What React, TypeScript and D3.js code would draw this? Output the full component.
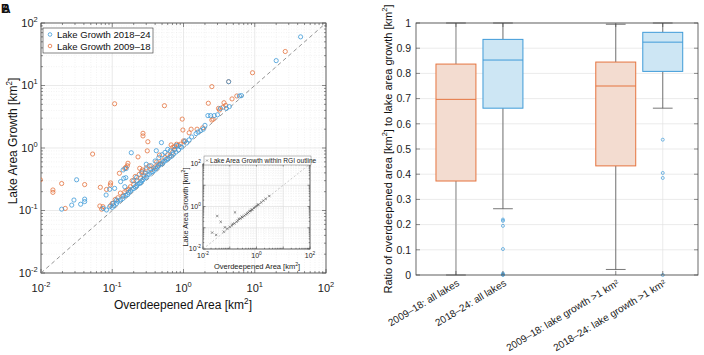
import React from "react";
import * as d3 from "d3";

// Panel A: lake area growth vs overdeepened area (km2)
const blue2018: [number, number][] = [
  [44, 60], [20, 25], [4.3, 11.5],
  [6.1, 6.8], [6.5, 6.9], [4.0, 4.3], [4.4, 4.6], [3.3, 4.3], [2.7, 3.3], [3.0, 3.4], [2.2, 3.3], [2.4, 3.3],
  [1.5, 1.7], [1.6, 1.8], [1.75, 1.9], [1.9, 2.0], [2.0, 2.3],
  [0.49, 1.22], [0.415, 0.905], [0.185, 0.84], [0.94, 1.03], [0.85, 0.93], [0.78, 0.86], [0.72, 0.8],
  [0.68, 0.74], [0.64, 0.71], [0.6, 0.67], [0.57, 0.66], [0.55, 0.62], [0.52, 0.6], [0.5, 0.56], [0.47, 0.55],
  [0.45, 0.52], [0.43, 0.5], [0.41, 0.47], [0.39, 0.44], [0.37, 0.42], [0.35, 0.41], [0.33, 0.38], [0.31, 0.37],
  [0.3, 0.34], [0.28, 0.33], [0.27, 0.31], [0.26, 0.3], [0.25, 0.28], [0.24, 0.27], [0.23, 0.265], [0.22, 0.25],
  [0.21, 0.24], [0.2, 0.225], [0.19, 0.22], [0.18, 0.205], [0.17, 0.195], [0.165, 0.18], [0.155, 0.175],
  [0.145, 0.17], [0.14, 0.155], [0.13, 0.148], [0.12, 0.14], [0.115, 0.13], [0.105, 0.12], [0.1, 0.112],
  [0.4, 0.62], [0.45, 0.7], [0.5, 0.78], [0.55, 0.85], [0.6, 0.95], [0.35, 0.52], [0.3, 0.45], [0.26, 0.4],
  [0.22, 0.34], [0.2, 0.3], [0.3, 0.55], [0.65, 0.9], [0.75, 0.95], [0.8, 1.1], [0.9, 1.05], [1.1, 1.2],
  [1.2, 1.35], [1.3, 1.5], [1.05, 1.3],
  [0.0316, 0.31], [0.0195, 0.105], [0.027, 0.122], [0.029, 0.147], [0.036, 0.126], [0.041, 0.152], [0.041, 0.139],
  [0.0745, 0.108], [0.083, 0.102], [0.092, 0.115], [0.103, 0.13], [0.115, 0.147], [0.092, 0.218], [0.108, 0.226],
  [0.15, 0.24], [0.155, 0.335], [0.142, 0.445], [0.082, 0.177], [0.157, 0.47], [0.131, 0.29], [0.145, 0.327],
];

const orange2009: [number, number][] = [
  [26.8, 35], [9.3, 16], [4.3, 11.5], [2.5, 9.6], [2.23, 5.2], [3.1, 4.3], [3.2, 4.05], [3.6, 4.5], [3.7, 5.3],
  [3.9, 4.8], [4.8, 6.1], [5.6, 6.8], [2.5, 2.8], [2.6, 2.9], [1.86, 2.1], [0.96, 2.9], [0.98, 1.94], [1.28, 2.0],
  [1.55, 2.0], [0.54, 4.75], [0.108, 5.1], [1.2, 1.75],
  [1.0, 1.3], [0.9, 1.15], [0.85, 1.1], [0.8, 1.15], [0.75, 1.05], [0.7, 0.85], [0.65, 0.75], [0.6, 0.78],
  [0.55, 0.7], [0.5, 0.62], [0.48, 0.56], [0.45, 0.55], [0.42, 0.6], [0.4, 0.5], [0.38, 0.48], [0.35, 0.45],
  [0.33, 0.52], [0.3, 0.48], [0.29, 0.4], [0.28, 0.36], [0.26, 0.42], [0.25, 0.33], [0.24, 0.38], [0.22, 0.3],
  [0.21, 0.35], [0.2, 0.26], [0.19, 0.3], [0.18, 0.24], [0.17, 0.22], [0.16, 0.21], [0.15, 0.2], [0.14, 0.17],
  [0.13, 0.19], [0.12, 0.16], [0.11, 0.15], [0.1, 0.13], [0.095, 0.12],
  [0.0098, 0.31], [0.0195, 0.27], [0.0147, 0.213], [0.0147, 0.195], [0.041, 0.26], [0.0219, 0.108], [0.053, 0.8],
  [0.068, 0.235], [0.083, 0.217], [0.095, 0.276], [0.071, 0.105], [0.067, 0.118], [0.074, 0.115],
  [0.27, 1.72], [0.27, 1.56], [0.316, 1.26], [0.31, 0.9], [0.23, 0.72], [0.166, 0.57], [0.163, 0.52], [0.15, 0.47],
  [0.126, 0.394], [0.46, 0.77], [0.67, 1.12], [0.71, 1.03], [0.75, 0.95], [1.03, 1.26], [0.243, 0.473],
  [0.264, 0.445], [0.155, 0.49], [0.094, 0.256],
];

// inset: lake area growth within RGI outline
const rgiPoints: [number, number][] = [
  [0.034, 0.357], [0.046, 0.19], [0.157, 0.53], [0.022, 0.059], [0.031, 0.046], [0.066, 0.105], [0.06, 0.065],
  [0.08, 0.09], [0.1, 0.11], [0.12, 0.13], [0.13, 0.15], [0.15, 0.16], [0.18, 0.19], [0.2, 0.22], [0.22, 0.26],
  [0.25, 0.27], [0.28, 0.33], [0.3, 0.31], [0.35, 0.37], [0.4, 0.42], [0.45, 0.47], [0.5, 0.52], [0.55, 0.6],
  [0.6, 0.62], [0.65, 0.7], [0.7, 0.72], [0.8, 0.85], [0.9, 0.95], [1.0, 1.05], [1.1, 1.2], [1.2, 1.25],
  [1.5, 1.55], [1.8, 1.9], [2.2, 2.3], [3.0, 3.1],
];

const logExps = [-2, -1, 0, 1, 2];
const insetExps = [-2, 0, 2];

// Panel B: box plots of the area ratio
const boxLabels = ["2009–18: all lakes", "2018–24: all lakes", "2009–18: lake growth >1 km²", "2018–24: lake growth >1 km²"];
const boxPositions = [1, 2, 4.4, 5.4];
const boxQ1 = [0.373, 0.662, 0.433, 0.808];
const boxMedian = [0.697, 0.853, 0.75, 0.924];
const boxQ3 = [0.837, 0.935, 0.845, 0.963];
const whiskerLow = [0, 0.263, 0.022, 0.662];
const whiskerHigh = [1, 1, 0.995, 1];
const boxOutliers = [[], [0.22, 0.215, 0.195, 0.103, 0.006, 0.002, 0], [], [0.537, 0.405, 0.385, 0]];
const ratioTicks = [0, 0.1, 0.2, 0.3, 0.4, 0.5, 0.6, 0.7, 0.8, 0.9, 1];

const BLUE = "#3f9bd8";
const ORANGE = "#e5743f";
const FONT = "'Liberation Sans', Arial, Helvetica, sans-serif";

const minorValues = (lo: number, hi: number) => {
  const out: number[] = [];
  for (let k = lo; k < hi; k++) for (let m = 2; m <= 9; m++) out.push(m * Math.pow(10, k));
  return out;
};

const LogAxes = ({ xs, ys, exps, fs, tick, labelDy }: any) => {
  const [x0, x1] = xs.range();
  const [y0, y1] = ys.range(); // y0 bottom
  const majors = d3.range(-2, 3).map((e) => Math.pow(10, e));
  const minors = minorValues(-2, 2);
  return (
    <g>
      <rect x={x0} y={y1} width={x1 - x0} height={y0 - y1} fill="#fff" />
      {minors.map((v, i) => (
        <g key={"mn" + i} stroke="#e6e6e6" strokeWidth={0.5} strokeDasharray="1,1.5">
          <line x1={xs(v)} x2={xs(v)} y1={y0} y2={y1} />
          <line x1={x0} x2={x1} y1={ys(v)} y2={ys(v)} />
        </g>
      ))}
      {majors.map((v, i) => (
        <g key={"mj" + i} stroke="#dcdcdc" strokeWidth={0.6}>
          <line x1={xs(v)} x2={xs(v)} y1={y0} y2={y1} />
          <line x1={x0} x2={x1} y1={ys(v)} y2={ys(v)} />
        </g>
      ))}
      <g stroke="#444" strokeWidth={0.6}>
        {majors.map((v, i) => (
          <g key={"tk" + i}>
            <line x1={xs(v)} x2={xs(v)} y1={y0} y2={y0 - tick} />
            <line x1={xs(v)} x2={xs(v)} y1={y1} y2={y1 + tick} />
            <line x1={x0} x2={x0 + tick} y1={ys(v)} y2={ys(v)} />
            <line x1={x1} x2={x1 - tick} y1={ys(v)} y2={ys(v)} />
          </g>
        ))}
        {minors.map((v, i) => (
          <g key={"tm" + i}>
            <line x1={xs(v)} x2={xs(v)} y1={y0} y2={y0 - tick / 2} />
            <line x1={xs(v)} x2={xs(v)} y1={y1} y2={y1 + tick / 2} />
            <line x1={x0} x2={x0 + tick / 2} y1={ys(v)} y2={ys(v)} />
            <line x1={x1} x2={x1 - tick / 2} y1={ys(v)} y2={ys(v)} />
          </g>
        ))}
      </g>
      <rect x={x0} y={y1} width={x1 - x0} height={y0 - y1} fill="none" stroke="#444" strokeWidth={0.8} />
      {exps.map((e: number) => (
        <text key={"xl" + e} x={xs(Math.pow(10, e))} y={y0 + labelDy} fontSize={fs} textAnchor="middle" fill="#222">
          10<tspan fontSize={fs * 0.68} dy={-fs * 0.45}>{e}</tspan>
        </text>
      ))}
      {exps.map((e: number) => (
        <text key={"yl" + e} x={x0 - fs * 0.3} y={ys(Math.pow(10, e)) + fs * 0.35} fontSize={fs} textAnchor="end" fill="#222">
          10<tspan fontSize={fs * 0.68} dy={-fs * 0.45}>{e}</tspan>
        </text>
      ))}
    </g>
  );
};

const Km2 = ({ fs }: { fs: number }) => (
  <>
    km<tspan fontSize={fs * 0.68} dy={-fs * 0.42}>2</tspan>
    <tspan dy={fs * 0.42}>]</tspan>
  </>
);

const App = () => {
  // main scatter
  const xs = d3.scaleLog().domain([0.01, 100]).range([41, 326]);
  const ys = d3.scaleLog().domain([0.01, 100]).range([273, 23]);
  // inset
  const xi = d3.scaleLog().domain([0.01, 100]).range([203, 310]);
  const yi = d3.scaleLog().domain([0.01, 100]).range([249, 164]);
  // box plot
  const xr = d3.scaleLinear().domain([0.15, 6.15]).range([416, 698]);
  const yr = d3.scaleLinear().domain([0, 1]).range([275, 23]);
  const half = 0.425;
  const cap = 0.21;

  return (
    <svg width={704} height={355} style={{ position: "absolute", left: 0, top: 0 }} fontFamily={FONT}>
      <rect width={704} height={355} fill="#fff" />
      <text x={1} y={13} fontSize={12} fontWeight="bold" fill="#111">B</text>
      <text x={2} y={13} fontSize={12} fontWeight="bold" fill="#111">A</text>

      {/* Panel A */}
      <LogAxes xs={xs} ys={ys} exps={logExps} fs={11} tick={4} labelDy={19} />
      <defs>
        <clipPath id="mainClip">
          <rect x={41} y={23} width={285} height={250} />
        </clipPath>
        <clipPath id="insetClip">
          <rect x={203} y={164} width={107} height={85} />
        </clipPath>
      </defs>
      <g clipPath="url(#mainClip)">
        <line x1={xs(0.01)} y1={ys(0.01)} x2={xs(100)} y2={ys(100)} stroke="#7a7a7a" strokeWidth={0.8} strokeDasharray="4,3" />
        {orange2009.map((d, i) => (
          <circle key={"o" + i} cx={xs(d[0])} cy={ys(d[1])} r={2.1} fill="none" stroke={ORANGE} strokeWidth={0.8} />
        ))}
        {blue2018.map((d, i) => (
          <circle key={"b" + i} cx={xs(d[0])} cy={ys(d[1])} r={2.1} fill="none" stroke={BLUE} strokeWidth={0.8} />
        ))}
      </g>
      <g>
        <rect x={43} y={28} width={110} height={25} fill="#fff" stroke="#333" strokeWidth={0.6} />
        <circle cx={50} cy={34.5} r={1.8} fill="none" stroke={BLUE} strokeWidth={0.8} />
        <text x={57} y={38} fontSize={9.5} fill="#111">Lake Growth 2018–24</text>
        <circle cx={50} cy={46} r={1.8} fill="none" stroke={ORANGE} strokeWidth={0.8} />
        <text x={57} y={49.5} fontSize={9.5} fill="#111">Lake Growth 2009–18</text>
      </g>
      <text transform="translate(17,141) rotate(-90)" fontSize={12} textAnchor="middle" fill="#111">
        Lake Area Growth [<Km2 fs={12} />
      </text>
      <text x={183} y={309} fontSize={12} textAnchor="middle" fill="#111">
        Overdeepened Area [<Km2 fs={12} />
      </text>

      {/* Inset */}
      <LogAxes xs={xi} ys={yi} exps={insetExps} fs={7} tick={2.5} labelDy={9} />
      <g clipPath="url(#insetClip)">
        <line x1={xi(0.01)} y1={yi(0.01)} x2={xi(100)} y2={yi(100)} stroke="#999" strokeWidth={0.5} strokeDasharray="2,2" />
        {rgiPoints.map((d, i) => {
          const cx = xi(d[0]);
          const cy = yi(d[1]);
          return (
            <path key={"r" + i} d={`M${cx - 1.2},${cy - 1.2}L${cx + 1.2},${cy + 1.2}M${cx - 1.2},${cy + 1.2}L${cx + 1.2},${cy - 1.2}`} stroke="#555" strokeWidth={0.6} />
          );
        })}
      </g>
      <rect x={204} y={156} width={107} height={9} fill="#fff" stroke="#777" strokeWidth={0.5} />
      <path d="M206,159.5L208,161.5M206,161.5L208,159.5" stroke="#555" strokeWidth={0.5} />
      <text x={210} y={163} fontSize={6.6} fill="#222">Lake Area Growth within RGI outline</text>
      <text transform="translate(188,207) rotate(-90)" fontSize={7.5} textAnchor="middle" fill="#222">
        Lake Area Growth [<Km2 fs={7.5} />
      </text>
      <text x={257} y={269} fontSize={7.5} textAnchor="middle" fill="#222">
        Overdeepened Area [<Km2 fs={7.5} />
      </text>

      {/* Panel B */}
      <g>
        {ratioTicks.map((t) => (
          <line key={"hg" + t} x1={416} x2={698} y1={yr(t)} y2={yr(t)} stroke="#e3e3e3" strokeWidth={0.7} />
        ))}
        {boxPositions.map((p) => (
          <line key={"vg" + p} x1={xr(p)} x2={xr(p)} y1={yr(0)} y2={yr(1)} stroke="#e3e3e3" strokeWidth={0.7} />
        ))}
        {boxPositions.map((p, i) => {
          const color = i % 2 === 0 ? ORANGE : BLUE;
          const fill = i % 2 === 0 ? "#f3dcd0" : "#cde6f4";
          const wColor = i === 0 ? "#b0b0b0" : "#555";
          const wWidth = i === 0 ? 1.6 : 0.8;
          return (
            <g key={"box" + i}>
              <line x1={xr(p)} x2={xr(p)} y1={yr(boxQ3[i])} y2={yr(whiskerHigh[i])} stroke={wColor} strokeWidth={wWidth} />
              <line x1={xr(p)} x2={xr(p)} y1={yr(boxQ1[i])} y2={yr(whiskerLow[i])} stroke={wColor} strokeWidth={wWidth} />
              <line x1={xr(p - cap)} x2={xr(p + cap)} y1={yr(whiskerHigh[i])} y2={yr(whiskerHigh[i])} stroke="#555" strokeWidth={0.8} />
              <line x1={xr(p - cap)} x2={xr(p + cap)} y1={yr(whiskerLow[i])} y2={yr(whiskerLow[i])} stroke="#555" strokeWidth={0.8} />
              <rect x={xr(p - half)} y={yr(boxQ3[i])} width={xr(p + half) - xr(p - half)} height={yr(boxQ1[i]) - yr(boxQ3[i])} fill={fill} stroke={color} strokeWidth={1} />
              <line x1={xr(p - half)} x2={xr(p + half)} y1={yr(boxMedian[i])} y2={yr(boxMedian[i])} stroke={color} strokeWidth={1} />
              {boxOutliers[i].map((o, j) => (
                <circle key={"ol" + j} cx={xr(p)} cy={yr(o)} r={1.5} fill="none" stroke={BLUE} strokeWidth={0.7} />
              ))}
            </g>
          );
        })}
        <g stroke="#444" strokeWidth={0.6}>
          {ratioTicks.map((t) => (
            <g key={"rt" + t}>
              <line x1={416} x2={420} y1={yr(t)} y2={yr(t)} />
              <line x1={698} x2={694} y1={yr(t)} y2={yr(t)} />
            </g>
          ))}
          {boxPositions.map((p) => (
            <g key={"bt" + p}>
              <line x1={xr(p)} x2={xr(p)} y1={yr(0)} y2={yr(0) - 4} />
              <line x1={xr(p)} x2={xr(p)} y1={yr(1)} y2={yr(1) + 4} />
            </g>
          ))}
        </g>
        <rect x={416} y={23} width={282} height={252} fill="none" stroke="#444" strokeWidth={0.8} />
        {ratioTicks.map((t) => (
          <text key={"ry" + t} x={411} y={yr(t) + 3.8} fontSize={10.5} textAnchor="end" fill="#222">
            {d3.format("~g")(t)}
          </text>
        ))}
        {boxPositions.map((p, i) => (
          <text key={"bl" + i} transform={`translate(${xr(p) + 4},${285}) rotate(-31)`} fontSize={10} textAnchor="end" fill="#222">
            {boxLabels[i]}
          </text>
        ))}
        <text transform="translate(392,149) rotate(-90)" fontSize={11} textAnchor="middle" fill="#111">
          Ratio of overdeepened area [<Km2 fs={11} /> to lake area growth [<Km2 fs={11} />
        </text>
      </g>
    </svg>
  );
};

export default App;
